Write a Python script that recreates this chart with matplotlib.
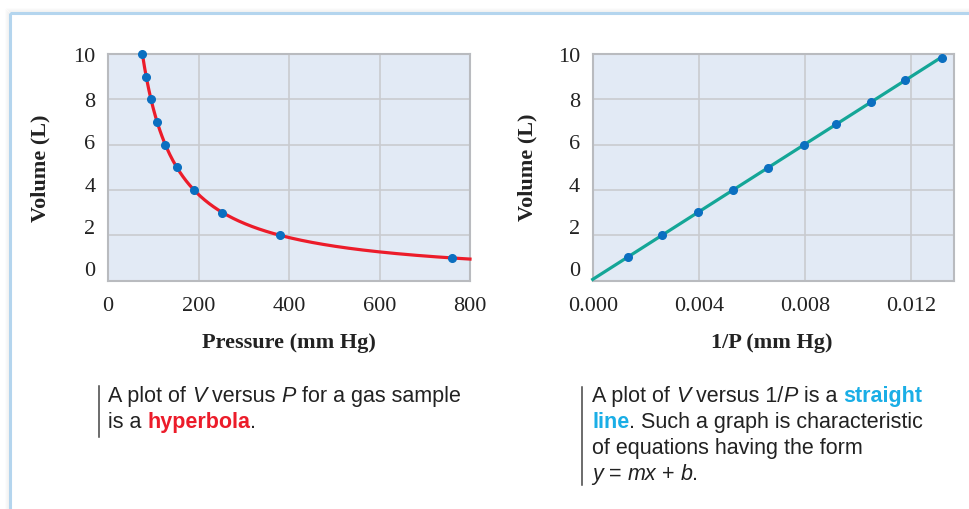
import numpy as np
import matplotlib
matplotlib.use('Agg')
import matplotlib.pyplot as plt
from matplotlib.patches import Rectangle
from matplotlib.transforms import ScaledTranslation

# data
pressure = [76, 84, 95, 109, 127, 152, 190, 253, 380, 760]
volume = [10, 9, 8, 7, 6, 5, 4, 3, 2, 1]
inv_pressure = [0.00133, 0.00261, 0.00396, 0.00528, 0.00660, 0.00795, 0.00916, 0.01047, 0.01175, 0.01313]
volume_right = [1.04, 2.01, 3.02, 3.99, 4.97, 5.98, 6.90, 7.88, 8.86, 9.83]

y_ticks = [0, 2, 4, 6, 8, 10]
x_ticks_left = [0, 200, 400, 600, 800]
x_ticks_right = [0.000, 0.004, 0.008, 0.012]

W, H = 970, 510
BG = '#e2eaf5'
GRID = '#c9cbcf'
SPINE = '#b9bbbf'
RED = '#ec1c2a'
DOT = '#0b6fc0'
TEAL = '#14a697'
BLUE_TXT = '#1aaee6'
TXT = '#222222'

serif = 'Liberation Serif'
sans = 'Liberation Sans'

fig = plt.figure(figsize=(W / 100, H / 100), dpi=100)
fig.patch.set_facecolor('white')


def px(x, y):
    return x / W, 1 - y / H


# outer frame with a soft shadow
for i, a in enumerate([0.05, 0.04, 0.03, 0.02]):
    fig.patches.append(Rectangle(px(10 - i - 1, 14 - i - 1), 2, -2, fill=False,
                                 edgecolor='#808080', alpha=a, lw=1.5,
                                 transform=fig.transFigure, zorder=0))
fig.patches.append(Rectangle(px(10, 14), 2, -2, fill=False, edgecolor='#b4d5ee',
                             lw=2.2, transform=fig.transFigure, zorder=1))

# the printed y labels drift upward towards 0 (pixels)
ylabel_shift = [12.6, 9, 6, 4, 0.5, 0]


def style_axes(ax, xlim, xticks, xlabels):
    ax.set_facecolor(BG)
    ax.set_xlim(*xlim)
    ax.set_ylim(0, 10)
    ax.set_xticks(xticks)
    ax.set_xticklabels(xlabels, fontfamily=serif, fontsize=16, color=TXT)
    ax.set_yticks(y_ticks)
    ax.set_yticklabels([str(v) for v in y_ticks], fontfamily=serif, fontsize=16, color=TXT)
    ax.tick_params(length=0)
    ax.tick_params(axis='x', pad=11)
    ax.tick_params(axis='y', pad=9)
    for lab, dy in zip(ax.get_yticklabels(), ylabel_shift):
        lab.set_transform(lab.get_transform() + ScaledTranslation(0, dy / 100, fig.dpi_scale_trans))
    ax.grid(True, color=GRID, lw=1.2)
    ax.set_axisbelow(True)
    for s in ax.spines.values():
        s.set_color(SPINE)
        s.set_linewidth(1.5)


def axis_label(x, y, text, rot=0):
    fig.text(*px(x, y), text, fontfamily=serif, fontweight='bold', fontsize=16,
             color=TXT, ha='center', va='center', rotation=rot)


# left: V versus P
ax1 = fig.add_axes([108 / W, 1 - 281.6 / H, 362 / W, 226.6 / H])
style_axes(ax1, (0, 800), x_ticks_left, [str(v) for v in x_ticks_left])
k = np.mean(np.array(pressure) * np.array(volume))
p_curve = np.linspace(min(pressure), 800, 300)
ax1.plot(p_curve, k / p_curve, color=RED, lw=2.3, zorder=3, clip_on=False)
ax1.plot(pressure, volume, 'o', color=DOT, ms=5.5, zorder=4, clip_on=False)
axis_label(40, 168, 'Volume (L)', 90)
axis_label(289, 343, 'Pressure (mm Hg)')

# right: V versus 1/P
ax2 = fig.add_axes([592.7 / W, 1 - 281.6 / H, 361.3 / W, 226.6 / H])
style_axes(ax2, (0, 0.0136), x_ticks_right, ['%.3f' % v for v in x_ticks_right])
m, b = np.polyfit(inv_pressure, volume_right, 1)
x_line = np.array([0, max(inv_pressure)])
ax2.plot(x_line, m * x_line + b, color=TEAL, lw=2.3, zorder=3, clip_on=False)
ax2.plot(inv_pressure, volume_right, 'o', color=DOT, ms=5.5, zorder=4, clip_on=False)
axis_label(527, 167, 'Volume (L)', 90)
axis_label(772, 343, '1/P (mm Hg)')

# captions
renderer = fig.canvas.get_renderer()


def rich_line(x, y, segments, size=15.5):
    for text, style in segments:
        kw = dict(fontfamily=sans, fontsize=size, color=TXT, va='center', ha='left')
        if 'i' in style:
            kw['fontstyle'] = 'italic'
        if 'r' in style:
            kw.update(color=RED, fontweight='bold')
        if 'b' in style:
            kw.update(color=BLUE_TXT, fontweight='bold')
        t = fig.text(*px(x, y), text, **kw)
        x += t.get_window_extent(renderer).width


left_lines = [
    [('A plot of ', ''), ('V', 'i'), (' versus ', ''), ('P', 'i'), (' for a gas sample', '')],
    [('is a ', ''), ('hyperbola', 'r'), ('.', '')],
]
right_lines = [
    [('A plot of ', ''), ('V', 'i'), (' versus 1/', ''), ('P', 'i'), (' is a ', ''), ('straight', 'b')],
    [('line', 'b'), ('. Such a graph is characteristic', '')],
    [('of equations having the form', '')],
    [('y', 'i'), (' = ', ''), ('mx', 'i'), (' + ', ''), ('b', 'i'), ('.', '')],
]

for i, line in enumerate(left_lines):
    rich_line(108, 397 + i * 25.5, line)
for i, line in enumerate(right_lines):
    rich_line(592, 397 + i * 25.7, line)

fig.add_artist(plt.Line2D([99 / W, 99 / W], [1 - 387 / H, 1 - 438 / H], color='#444444',
                          lw=1.1, transform=fig.transFigure))
fig.add_artist(plt.Line2D([582 / W, 582 / W], [1 - 388 / H, 1 - 486 / H], color='#444444',
                          lw=1.1, transform=fig.transFigure))

fig.savefig('out.png', dpi=100)
